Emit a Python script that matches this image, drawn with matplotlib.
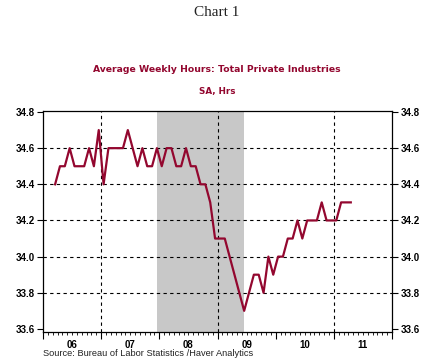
import numpy as np
import matplotlib
matplotlib.use("Agg")
import matplotlib.pyplot as plt
from matplotlib.ticker import FixedLocator, NullFormatter

# monthly average weekly hours, Mar 2006 - Apr 2011
start_year = 2006
start_month = 3
hours = [
    34.4, 34.5, 34.5, 34.6, 34.5, 34.5, 34.5, 34.6, 34.5, 34.7,              # 2006
    34.4, 34.6, 34.6, 34.6, 34.6, 34.7, 34.6, 34.5, 34.6, 34.5, 34.5, 34.6,  # 2007
    34.5, 34.6, 34.6, 34.5, 34.5, 34.6, 34.5, 34.5, 34.4, 34.4, 34.3, 34.1,  # 2008
    34.1, 34.1, 34.0, 33.9, 33.8, 33.7, 33.8, 33.9, 33.9, 33.8, 34.0, 33.9,  # 2009
    34.0, 34.0, 34.1, 34.1, 34.2, 34.1, 34.2, 34.2, 34.2, 34.3, 34.2, 34.2,  # 2010
    34.2, 34.3, 34.3, 34.3,                                                  # 2011
]
recession = (2007 + 11.5 / 12, 2009 + 5.5 / 12)  # Dec 2007 - Jun 2009
year_labels = ["06", "07", "08", "09", "10", "11"]
y_ticks = [33.6, 33.8, 34.0, 34.2, 34.4, 34.6, 34.8]

x = start_year + (start_month - 1 + np.arange(len(hours)) + 0.5) / 12.0

red = "#93072f"
fig = plt.figure(figsize=(4.34, 3.62), dpi=100)
ax = fig.add_axes([43 / 434, 30 / 362, 349 / 434, 221 / 362])

ax.axvspan(recession[0], recession[1], color="#c8c8c8", lw=0, zorder=0)
for yv in y_ticks[1:-1]:
    ax.axhline(yv, color="black", lw=0.8, ls=(0, (3, 3)), zorder=1)
for xv in [2007, 2009, 2011]:
    ax.axvline(xv, color="black", lw=0.8, ls=(0, (3, 3)), zorder=1)

ax.plot(x, hours, color=red, lw=1.6, zorder=3)

ax.set_xlim(2006, 2012)
ax.set_ylim(33.583, 34.8055)
ax.set_yticks(y_ticks)
ax.set_yticklabels(["%.1f" % v for v in y_ticks], fontsize=7, fontweight="bold",
                   family="Liberation Sans")
ax.tick_params(axis="y", which="both", direction="out", length=4, width=0.8,
               left=True, right=True, labelleft=True, labelright=True, pad=2)

ax.xaxis.set_major_locator(FixedLocator(range(2006, 2013)))
ax.xaxis.set_minor_locator(FixedLocator([2006 + m / 12 for m in range(72)]))
ax.xaxis.set_major_formatter(NullFormatter())
ax.tick_params(axis="x", which="major", direction="out", length=5, width=0.8)
ax.tick_params(axis="x", which="minor", direction="out", length=2.5, width=0.6)
for i, lab in enumerate(year_labels):
    ax.text(2006.5 + i, -0.038, lab, transform=ax.get_xaxis_transform(),
            ha="center", va="top", fontsize=7, fontweight="bold",
            family="Liberation Sans")

for sp in ax.spines.values():
    sp.set_linewidth(0.9)
    sp.set_color("black")

fig.text(0.5, 1 - 13 / 362, "Chart 1", ha="center", va="center", fontsize=11,
         family="Liberation Serif", color="#222222")
fig.text(0.5, 1 - 69 / 362, "Average Weekly Hours: Total Private Industries",
         ha="center", va="center", fontsize=6.7, fontweight="bold", color=red,
         family="DejaVu Sans")
fig.text(0.5, 1 - 91 / 362, "SA, Hrs", ha="center", va="center", fontsize=6.3,
         fontweight="bold", color=red, family="DejaVu Sans")
fig.text(43 / 434, 1 - 354 / 362, "Source: Bureau of Labor Statistics /Haver Analytics",
         ha="left", va="center", fontsize=6.7, color="#222222",
         family="Liberation Sans")

fig.savefig("out.png", dpi=100)
